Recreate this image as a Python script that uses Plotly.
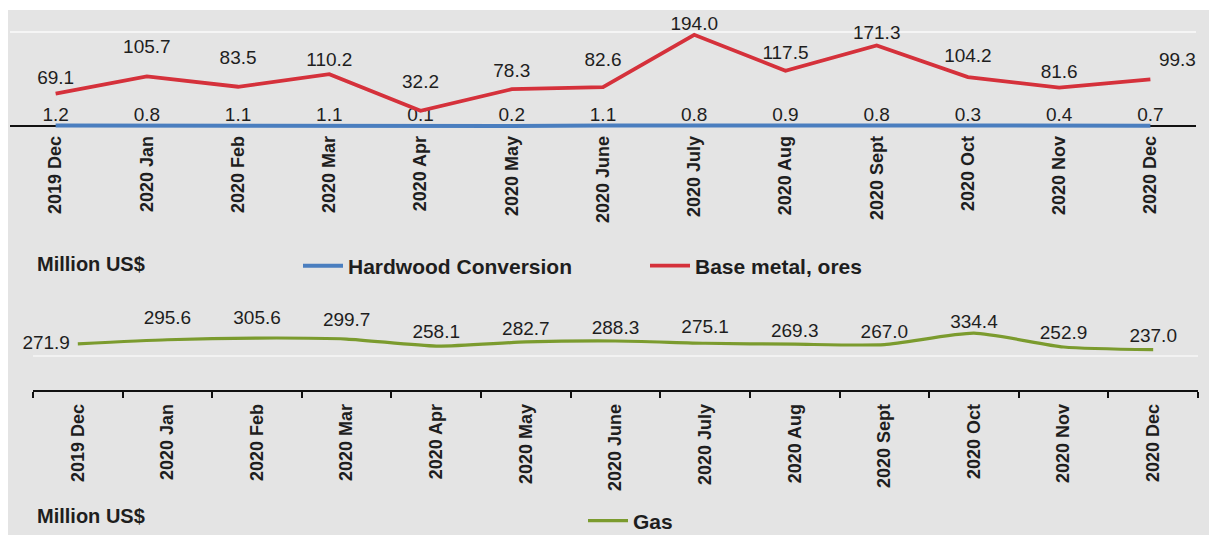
import plotly.graph_objects as go

months = ["2019 Dec", "2020 Jan", "2020 Feb", "2020 Mar", "2020 Apr", "2020 May",
          "2020 June", "2020 July", "2020 Aug", "2020 Sept", "2020 Oct", "2020 Nov", "2020 Dec"]
hardwood = [1.2, 0.8, 1.1, 1.1, 0.1, 0.2, 1.1, 0.8, 0.9, 0.8, 0.3, 0.4, 0.7]
base_metal = [69.1, 105.7, 83.5, 110.2, 32.2, 78.3, 82.6, 194.0, 117.5, 171.3, 104.2, 81.6, 99.3]
gas = [271.9, 295.6, 305.6, 299.7, 258.1, 282.7, 288.3, 275.1, 269.3, 267.0, 334.4, 252.9, 237.0]

# styling: invisible marker sizes used only to space the value labels from the line
red_label_gap = [6, 28, 27, 4, 27, 11, 25, 0, 9, 1, 15, 6, 12]
gas_label_gap = [11, 16, 14, 12, 4, 2, 2, 7, 3, 1, 0, 3, 3]

# page body has an 8px margin, so the figure covers 8..1217 x 8..535 of the window
OFF = 8
W, H = 1217 - OFF, 535 - OFF
def px(x):
    return (x - OFF) / W
def py(y):
    return 1 - (y - OFF) / H

FONT = "Liberation Sans, Arial, sans-serif"
TXT = "#1e1e1e"
RED = "#d5313b"
BLUE = "#4a7ebf"
GREEN = "#7b9b2e"
BG = "#e4e4e4"
NOMARK = dict(color="rgba(0,0,0,0)", opacity=0, line=dict(width=0, color="rgba(0,0,0,0)"))

# top panel: value 0 sits at y=126 px, 200 at y=32 px
TOP_LO, TOP_HI = -5, 210
k_top = (126 - 32) / 200
top_dom = [py(126 - TOP_LO * k_top), py(126 - TOP_HI * k_top)]

fig = go.Figure()

fig.add_trace(go.Scatter(
    x=months, y=hardwood, name="Hardwood Conversion", mode="lines+text",
    line=dict(color=BLUE, width=4),
    text=[f"{v:.1f}" for v in hardwood], textposition="top center",
    textfont=dict(family=FONT, size=19, color=TXT), cliponaxis=False,
    xaxis="x", yaxis="y", legend="legend"))

red_pos = ["top center"] * 12 + ["top right"]
fig.add_trace(go.Scatter(
    x=months, y=base_metal, name="Base metal, ores", mode="lines+markers+text",
    line=dict(color=RED, width=3.8), marker=dict(size=red_label_gap, **NOMARK),
    text=[f"{v:.1f}" for v in base_metal], textposition=red_pos,
    textfont=dict(family=FONT, size=19, color=TXT), cliponaxis=False,
    xaxis="x", yaxis="y", legend="legend"))

gas_pos = ["middle left"] + ["top center"] * 12
fig.add_trace(go.Scatter(
    x=months, y=gas, name="Gas", mode="lines+markers+text",
    line=dict(color=GREEN, width=3.2, shape="spline", smoothing=0.6),
    marker=dict(size=gas_label_gap, **NOMARK),
    text=[f"{v:.1f}" for v in gas], textposition=gas_pos,
    textfont=dict(family=FONT, size=19, color=TXT), cliponaxis=False,
    xaxis="x2", yaxis="y2", legend="legend2"))

tickfont = dict(family=FONT, size=18, color=TXT, weight="bold")

fig.update_layout(
    width=W, height=H,
    margin=dict(l=0, r=0, t=0, b=0, pad=0, autoexpand=False),
    paper_bgcolor="white", plot_bgcolor="rgba(0,0,0,0)",
    font=dict(family=FONT, color=TXT),
    xaxis=dict(domain=[px(10), px(1196)], anchor="y", type="category",
               range=[-0.5, 12.5], showline=False,
               ticks="", tickangle=-90, tickfont=tickfont, ticklabelstandoff=3,
               showgrid=False, zeroline=False),
    yaxis=dict(domain=top_dom, anchor="x", range=[TOP_LO, TOP_HI],
               tickvals=[200], showticklabels=False, showgrid=True,
               gridcolor="#f5f5f5", gridwidth=1.5, zeroline=True,
               zerolinecolor="#111", zerolinewidth=1.5, showline=False),
    xaxis2=dict(domain=[px(33), px(1198)], anchor="y2", type="category",
                range=[-0.5, 12.5], showline=True, linecolor="#111", linewidth=1.5,
                ticks="outside", tickson="boundaries", ticklen=6, tickcolor="#111",
                tickwidth=1.5, tickangle=-90, tickfont=tickfont, ticklabelstandoff=5,
                showgrid=False, zeroline=False),
    yaxis2=dict(domain=[py(390), py(322)], anchor="x2", range=[0, 400],
                tickvals=[200, 400], showticklabels=False, showgrid=True,
                gridcolor="#f2f2f2", gridwidth=1.5, zeroline=False, showline=False),
    legend=dict(orientation="h", x=px(298), y=py(266), xanchor="left", yanchor="middle",
                font=dict(family=FONT, size=21, color=TXT, weight="bold"),
                bgcolor="rgba(0,0,0,0)", entrywidth=292, itemwidth=40),
    legend2=dict(orientation="h", x=px(583), y=py(521), xanchor="left", yanchor="middle",
                 font=dict(family=FONT, size=21, color=TXT, weight="bold"),
                 bgcolor="rgba(0,0,0,0)", itemwidth=40),
    shapes=[dict(type="rect", xref="paper", yref="paper", x0=0, x1=px(1210),
                 y0=-0.05, y1=py(10), fillcolor=BG, line=dict(width=0), layer="below")],
    annotations=[
        dict(text="<b>Million US$</b>", xref="paper", yref="paper", x=px(35), y=py(264),
             xanchor="left", yanchor="middle", showarrow=False,
             font=dict(family=FONT, size=20, color=TXT)),
        dict(text="<b>Million US$</b>", xref="paper", yref="paper", x=px(35), y=py(516),
             xanchor="left", yanchor="middle", showarrow=False,
             font=dict(family=FONT, size=20, color=TXT)),
    ],
)

fig.write_html("out.html")
